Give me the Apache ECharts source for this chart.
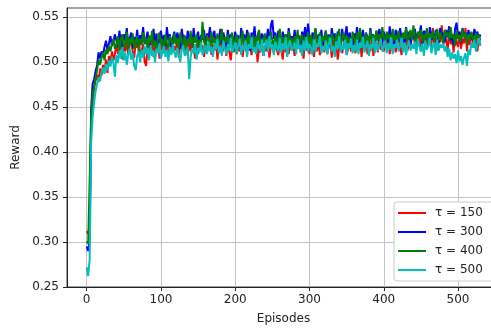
<!DOCTYPE html>
<html>
<head>
<meta charset="utf-8">
<script src="https://cdn.jsdelivr.net/npm/echarts@6/dist/echarts.min.js"></script>
<style>html,body{margin:0;padding:0;background:#fff}#c{width:491px;height:331px}</style>
</head>
<body>
<div id="c"></div>
<script>
// Episodes sampled every 2 episodes: 0, 2, ..., 530
const episodes = [];
for (let e = 0; e <= 530; e += 2) episodes.push(e);

const xTicks = [0, 100, 200, 300, 400, 500];
const yTicks = [0.25, 0.30, 0.35, 0.40, 0.45, 0.50, 0.55];
const seriesNames = ['τ = 150', 'τ = 300', 'τ = 400', 'τ = 500'];

const tau150 = [
0.312,0.309,0.318,0.428,0.455,0.471,0.480,0.486,0.478,0.493,0.485,0.497,0.490,0.503,0.488,0.507,0.498,0.512,0.502,0.509,
0.521,0.509,0.514,0.527,0.503,0.518,0.512,0.524,0.508,0.519,0.529,0.511,0.505,0.522,0.516,0.526,0.507,0.513,0.520,0.501,
0.496,0.515,0.523,0.510,0.528,0.506,0.517,0.512,0.525,0.504,0.519,0.514,0.530,0.509,0.521,0.507,0.516,0.524,0.511,0.518,
0.513,0.526,0.505,0.520,0.515,0.531,0.510,0.518,0.507,0.523,0.512,0.527,0.516,0.504,0.521,0.509,0.525,0.514,0.519,0.506,
0.522,0.511,0.517,0.529,0.508,0.520,0.513,0.526,0.503,0.518,0.524,0.510,0.515,0.528,0.507,0.521,0.512,0.502,0.519,0.514,
0.525,0.509,0.518,0.512,0.527,0.506,0.521,0.515,0.510,0.524,0.517,0.508,0.522,0.513,0.528,0.500,0.516,0.511,0.523,0.507,
0.519,0.512,0.526,0.505,0.517,0.523,0.510,0.528,0.514,0.508,0.521,0.515,0.503,0.525,0.511,0.518,0.509,0.524,0.513,0.520,
0.507,0.522,0.515,0.530,0.511,0.518,0.504,0.525,0.513,0.519,0.509,0.527,0.516,0.506,0.521,0.512,0.524,0.508,0.517,0.523,
0.511,0.526,0.509,0.518,0.522,0.505,0.529,0.514,0.520,0.503,0.516,0.524,0.510,0.519,0.527,0.508,0.515,0.521,0.512,0.525,
0.517,0.510,0.524,0.513,0.528,0.506,0.519,0.515,0.526,0.509,0.521,0.512,0.530,0.507,0.518,0.523,0.511,0.527,0.514,0.520,
0.512,0.525,0.518,0.531,0.509,0.522,0.515,0.528,0.511,0.520,0.534,0.516,0.508,0.526,0.519,0.532,0.513,0.523,0.517,0.529,
0.537,0.515,0.526,0.519,0.533,0.512,0.528,0.521,0.535,0.514,0.524,0.530,0.517,0.538,0.520,0.527,0.513,0.531,0.522,0.541,
0.518,0.532,0.524,0.513,0.536,0.520,0.528,0.511,0.530,0.522,0.517,0.534,0.515,0.526,0.521,0.538,0.512,0.529,0.519,0.533,
0.523,0.516,0.530,0.512,0.526,0.519
];

const tau300 = [
0.295,0.290,0.302,0.448,0.476,0.481,0.490,0.497,0.511,0.504,0.512,0.508,0.517,0.524,0.513,0.521,0.529,0.518,0.523,0.531,
0.529,0.517,0.535,0.522,0.513,0.531,0.524,0.538,0.519,0.527,0.533,0.515,0.528,0.521,0.536,0.518,0.530,0.525,0.539,0.520,
0.526,0.534,0.516,0.529,0.523,0.537,0.519,0.532,0.514,0.528,0.535,0.521,0.530,0.517,0.539,0.524,0.531,0.513,0.527,0.534,
0.520,0.533,0.526,0.515,0.537,0.523,0.529,0.518,0.535,0.524,0.531,0.516,0.538,0.522,0.527,0.534,0.519,0.530,0.525,0.536,
0.518,0.532,0.527,0.539,0.521,0.529,0.535,0.514,0.530,0.524,0.537,0.520,0.533,0.526,0.517,0.536,0.523,0.531,0.528,0.519,
0.534,0.522,0.530,0.516,0.538,0.525,0.531,0.520,0.536,0.527,0.513,0.533,0.524,0.540,0.519,0.529,0.535,0.521,0.532,0.526,
0.530,0.523,0.537,0.518,0.541,0.547,0.526,0.533,0.520,0.535,0.528,0.516,0.534,0.524,0.531,0.519,0.538,0.525,0.529,0.522,
0.536,0.521,0.530,0.527,0.518,0.534,0.525,0.539,0.523,0.543,0.529,0.516,0.533,0.526,0.537,0.520,0.531,0.524,0.536,0.519,
0.528,0.535,0.522,0.531,0.517,0.538,0.526,0.532,0.520,0.534,0.529,0.515,0.537,0.524,0.530,0.540,0.521,0.533,0.527,0.518,
0.532,0.525,0.539,0.521,0.530,0.527,0.536,0.516,0.533,0.528,0.522,0.538,0.526,0.531,0.519,0.535,0.524,0.537,0.529,0.520,
0.534,0.527,0.531,0.522,0.540,0.525,0.533,0.518,0.536,0.529,0.523,0.538,0.526,0.532,0.521,0.539,0.528,0.534,0.519,0.531,
0.526,0.537,0.522,0.533,0.529,0.541,0.520,0.535,0.527,0.531,0.518,0.539,0.525,0.534,0.523,0.536,0.529,0.521,0.538,0.527,
0.533,0.522,0.536,0.528,0.540,0.524,0.531,0.519,0.537,0.544,0.526,0.534,0.521,0.538,0.529,0.533,0.523,0.536,0.527,0.532,
0.524,0.537,0.529,0.534,0.526,0.531
];

const tau400 = [
0.301,0.298,0.296,0.438,0.464,0.473,0.482,0.491,0.503,0.497,0.505,0.511,0.502,0.514,0.509,0.518,0.512,0.521,0.526,0.515,
0.518,0.529,0.513,0.525,0.531,0.516,0.522,0.534,0.511,0.527,0.520,0.532,0.515,0.524,0.529,0.512,0.526,0.519,0.533,0.521,
0.527,0.514,0.530,0.521,0.535,0.517,0.524,0.512,0.528,0.533,0.519,0.526,0.510,0.531,0.522,0.516,0.529,0.524,0.518,0.532,
0.520,0.527,0.515,0.533,0.523,0.518,0.530,0.512,0.526,0.521,0.535,0.516,0.528,0.522,0.531,0.514,0.525,0.519,0.545,0.523,
0.517,0.530,0.524,0.513,0.534,0.521,0.527,0.516,0.532,0.519,0.525,0.537,0.514,0.528,0.522,0.531,0.518,0.526,0.533,0.511,
0.524,0.531,0.517,0.528,0.522,0.535,0.514,0.527,0.520,0.533,0.518,0.525,0.530,0.512,0.529,0.523,0.536,0.516,0.526,0.521,
0.532,0.515,0.527,0.520,0.534,0.524,0.518,0.530,0.513,0.526,0.537,0.519,0.528,0.522,0.531,0.516,0.535,0.521,0.527,0.514,
0.529,0.522,0.536,0.517,0.526,0.531,0.515,0.528,0.523,0.534,0.519,0.530,0.512,0.527,0.538,0.520,0.525,0.533,0.518,0.529,
0.523,0.535,0.516,0.529,0.521,0.532,0.526,0.514,0.531,0.524,0.537,0.519,0.527,0.533,0.517,0.530,0.522,0.528,0.515,0.534,
0.526,0.519,0.533,0.524,0.538,0.521,0.529,0.516,0.532,0.527,0.520,0.536,0.523,0.530,0.518,0.535,0.525,0.531,0.522,0.539,
0.528,0.521,0.534,0.526,0.531,0.518,0.537,0.524,0.530,0.522,0.535,0.527,0.519,0.533,0.526,0.538,0.523,0.529,0.536,0.525,
0.541,0.527,0.520,0.534,0.529,0.536,0.522,0.531,0.525,0.538,0.519,0.532,0.527,0.535,0.523,0.530,0.537,0.524,0.533,0.528,
0.521,0.536,0.529,0.533,0.524,0.539,0.527,0.531,0.518,0.535,0.526,0.530,0.522,0.537,0.528,0.533,0.520,0.531,0.525,0.534,
0.527,0.521,0.533,0.526,0.530,0.524
];

const tau500 = [
0.272,0.262,0.281,0.410,0.439,0.455,0.468,0.476,0.483,0.479,0.489,0.494,0.487,0.498,0.491,0.502,0.495,0.506,0.499,0.484,
0.508,0.499,0.513,0.504,0.517,0.502,0.511,0.497,0.509,0.515,0.503,0.510,0.496,0.491,0.507,0.512,0.500,0.514,0.505,0.518,
0.509,0.516,0.502,0.519,0.507,0.513,0.500,0.515,0.510,0.521,0.504,0.512,0.518,0.506,0.514,0.501,0.517,0.508,0.520,0.511,
0.505,0.516,0.509,0.500,0.514,0.519,0.507,0.512,0.517,0.481,0.506,0.515,0.510,0.520,0.503,0.516,0.511,0.522,0.508,0.514,
0.519,0.509,0.523,0.512,0.517,0.506,0.521,0.514,0.526,0.510,0.518,0.507,0.524,0.515,0.509,0.520,0.513,0.527,0.511,0.516,
0.522,0.510,0.518,0.526,0.508,0.519,0.514,0.524,0.506,0.520,0.515,0.528,0.511,0.517,0.509,0.523,0.516,0.512,0.525,0.507,
0.518,0.525,0.511,0.529,0.515,0.520,0.508,0.523,0.517,0.512,0.527,0.510,0.521,0.514,0.528,0.506,0.519,0.524,0.513,0.516,
0.522,0.509,0.526,0.515,0.519,0.507,0.524,0.513,0.528,0.511,0.520,0.516,0.508,0.525,0.512,0.521,0.517,0.529,0.510,0.518,
0.513,0.524,0.509,0.520,0.527,0.512,0.518,0.506,0.523,0.515,0.529,0.511,0.519,0.514,0.525,0.508,0.521,0.516,0.526,0.510,
0.519,0.512,0.525,0.509,0.522,0.516,0.528,0.511,0.518,0.524,0.507,0.520,0.515,0.527,0.510,0.523,0.513,0.519,0.526,0.512,
0.517,0.524,0.510,0.521,0.514,0.528,0.509,0.520,0.516,0.525,0.512,0.519,0.527,0.511,0.522,0.508,0.518,0.524,0.513,0.520,
0.515,0.523,0.509,0.526,0.518,0.512,0.521,0.507,0.524,0.514,0.519,0.527,0.510,0.517,0.522,0.508,0.525,0.513,0.520,0.516,
0.521,0.512,0.518,0.506,0.515,0.502,0.511,0.504,0.509,0.499,0.513,0.501,0.507,0.497,0.505,0.510,0.496,0.514,0.508,0.522,
0.516,0.525,0.512,0.520,0.527,0.518
];

const colors = ['#ff0000', '#0000ff', '#008000', '#00bfbf'];
const values = [tau150, tau300, tau400, tau500];

const chart = echarts.init(document.getElementById('c'), null, {renderer: 'canvas'});
const font = 'DejaVu Sans';
chart.setOption({
  animation: false,
  backgroundColor: '#ffffff',
  grid: {left: 67, top: 8, width: 433, height: 279, outerBoundsMode: 'none', containLabel: false,
    show: true, borderColor: '#444', borderWidth: 1, backgroundColor: 'transparent'},
  xAxis: {
    type: 'value', min: -26.5, max: 556.5,
    name: 'Episodes', nameLocation: 'middle', nameGap: 26,
    nameTextStyle: {fontFamily: font, fontSize: 12, color: '#222'},
    axisLine: {show: true, onZero: false, lineStyle: {color: '#222', width: 1}},
    axisTick: {show: true, customValues: xTicks, length: 4, lineStyle: {color: '#222'}},
    axisLabel: {customValues: xTicks, fontFamily: font, fontSize: 12, color: '#222', margin: 7},
    splitLine: {show: true, lineStyle: {color: '#c4c4c4', width: 1}}
  },
  yAxis: {
    type: 'value', min: 0.25, max: 0.5603,
    name: 'Reward', nameLocation: 'middle', nameGap: 38,
    nameTextStyle: {fontFamily: font, fontSize: 12, color: '#222'},
    axisLine: {show: true, onZero: false, lineStyle: {color: '#222', width: 1}},
    axisTick: {show: true, customValues: yTicks, length: 4, lineStyle: {color: '#222'}},
    axisLabel: {customValues: yTicks, fontFamily: font, fontSize: 12, color: '#222', margin: 8,
      formatter: v => v.toFixed(2)},
    splitLine: {show: true, lineStyle: {color: '#c4c4c4', width: 1}}
  },
  legend: {
    orient: 'vertical', left: 394, top: 202,
    padding: [4, 12, 4, 4], itemGap: 5,
    itemWidth: 28, itemHeight: 2, icon: 'rect',
    backgroundColor: '#ffffff', borderColor: '#cccccc', borderWidth: 1, borderRadius: 3,
    textStyle: {fontFamily: font, fontSize: 12, color: '#222', lineHeight: 14, padding: [0, 0, 0, 4]},
    data: seriesNames
  },
  series: seriesNames.map((n, k) => ({
    name: n, type: 'line', showSymbol: false, symbol: 'none',
    color: colors[k],
    lineStyle: {color: colors[k], width: 2},
    data: episodes.map((e, i) => [e, values[k][i]])
  }))
});
</script>
</body>
</html>
